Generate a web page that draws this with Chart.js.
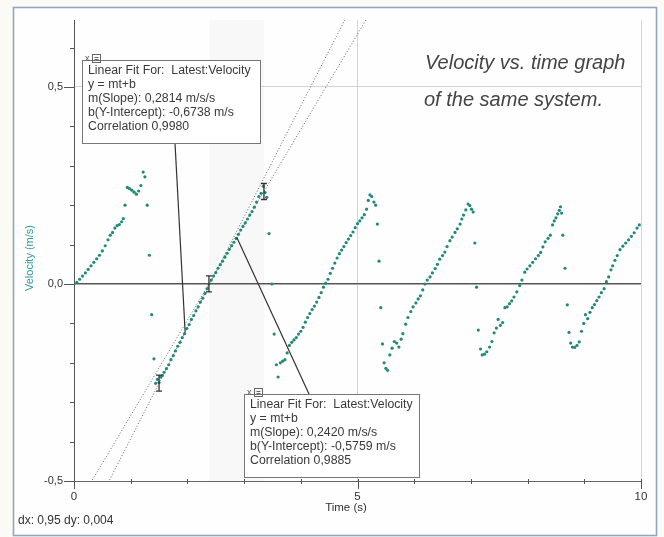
<!DOCTYPE html>
<html>
<head>
<meta charset="utf-8">
<title>Velocity vs. time</title>
<script src="https://cdn.jsdelivr.net/npm/chart.js@4"></script>
<style>
  html, body { margin: 0; padding: 0; background: #fbfaf5; }
  #wrap { width: 664px; height: 537px; }
</style>
</head>
<body>
<div id="wrap"><canvas id="chart" width="664" height="537"></canvas></div>
<script>
// Measured run: time (s) and velocity (m/s)
const timeS = [
  0.00, 0.05, 0.10, 0.15, 0.20, 0.25, 0.30, 0.35, 0.40, 0.45, 0.50, 0.55, 0.60, 0.64, 0.68, 0.72, 0.76, 0.80,
  0.84, 0.87, 0.90, 0.94, 0.98, 1.02, 1.06, 1.10, 1.14, 1.18, 1.22, 1.25, 1.29, 1.33, 1.37, 1.41,
  1.44, 1.47, 1.50, 1.53, 1.56, 1.59, 1.63, 1.67, 1.71, 1.75, 1.79, 1.83, 1.87, 1.91, 1.95, 1.99, 2.03,
  2.07, 2.11, 2.15, 2.19, 2.23, 2.27, 2.31, 2.35, 2.38,
  2.42, 2.46, 2.50, 2.54, 2.58, 2.62, 2.66, 2.70, 2.74, 2.78, 2.82, 2.86, 2.90, 2.94, 2.98, 3.02, 3.06,
  3.10, 3.14, 3.18, 3.22, 3.26, 3.30, 3.34, 3.37, 3.40, 3.44, 3.49, 3.53, 3.57, 3.60,
  3.64, 3.68, 3.72, 3.76, 3.80, 3.84, 3.88, 3.92, 3.96, 4.00, 4.04, 4.08, 4.12, 4.16, 4.20, 4.24, 4.28,
  4.32, 4.36, 4.40, 4.44, 4.48, 4.52, 4.56, 4.60, 4.64, 4.68, 4.72, 4.76, 4.80, 4.84, 4.88, 4.92, 4.96,
  5.00, 5.04, 5.08, 5.12, 5.16, 5.19, 5.22, 5.25, 5.29, 5.32, 5.35, 5.38, 5.41, 5.44, 5.47, 5.50, 5.53,
  5.57, 5.61, 5.65, 5.69, 5.73, 5.77, 5.80, 5.85, 5.89, 5.94, 5.98, 6.03, 6.07, 6.11, 6.15, 6.19, 6.23,
  6.28, 6.32, 6.37, 6.41, 6.45, 6.50, 6.54, 6.58, 6.63, 6.67, 6.72, 6.76, 6.81, 6.84, 6.87, 6.91, 6.95,
  6.98, 7.01, 7.04, 7.07, 7.10, 7.13, 7.17, 7.20,
  7.24, 7.28, 7.33, 7.37, 7.41, 7.45, 7.48, 7.52, 7.56, 7.60, 7.64, 7.68, 7.72, 7.76, 7.81, 7.86, 7.90,
  7.95, 7.99, 8.04, 8.09, 8.14, 8.19, 8.23, 8.27, 8.31, 8.36, 8.40, 8.44, 8.47, 8.50, 8.53, 8.56, 8.58,
  8.60, 8.62, 8.66, 8.70, 8.73, 8.76, 8.79, 8.83, 8.87, 8.91, 8.95, 8.99, 9.02, 9.06, 9.10, 9.14, 9.18,
  9.22, 9.26, 9.30, 9.35, 9.39, 9.43, 9.47, 9.50, 9.54, 9.58, 9.63, 9.68, 9.73, 9.78, 9.83, 9.88, 9.93, 9.97
];
const velocity = [
  0.000, 0.004, 0.012, 0.020, 0.028, 0.037, 0.046, 0.055, 0.064, 0.073, 0.084, 0.097, 0.112, 0.124, 0.131, 0.142, 0.148, 0.151,
  0.158, 0.166, 0.200, 0.245, 0.242, 0.238, 0.233, 0.228, 0.236, 0.250, 0.284, 0.272, 0.200, 0.073, -0.078, -0.190,
  -0.252, -0.242, -0.250, -0.236, -0.232, -0.224, -0.215, -0.205, -0.192, -0.182, -0.170, -0.158, -0.148, -0.136, -0.126, -0.113, -0.103,
  -0.090, -0.080, -0.068, -0.058, -0.046, -0.036, -0.024, -0.012, 0.000,
  0.010, 0.020, 0.029, 0.040, 0.049, 0.058, 0.068, 0.078, 0.088, 0.097, 0.106, 0.116, 0.126, 0.137, 0.146, 0.155, 0.165,
  0.175, 0.184, 0.195, 0.208, 0.222, 0.230, 0.248, 0.232, 0.220, 0.128, 0.000, -0.127, -0.205, -0.236,
  -0.200, -0.196, -0.192, -0.175, -0.156, -0.148, -0.142, -0.136, -0.127, -0.120, -0.110, -0.097, -0.085, -0.075, -0.065, -0.056, -0.046,
  -0.034, -0.022, -0.008, 0.002, 0.012, 0.027, 0.040, 0.053, 0.066, 0.077, 0.086, 0.095, 0.105, 0.114, 0.123, 0.132, 0.143,
  0.153, 0.160, 0.168, 0.176, 0.190, 0.212, 0.226, 0.222, 0.208, 0.200, 0.152, 0.058, -0.060, -0.152, -0.200, -0.214, -0.219,
  -0.180, -0.163, -0.146, -0.150, -0.160, -0.140, -0.126, -0.102, -0.085, -0.070, -0.058, -0.048, -0.038, -0.030, -0.015, 0.000, 0.010,
  0.018, 0.028, 0.039, 0.050, 0.063, 0.072, 0.081, 0.095, 0.110, 0.119, 0.131, 0.140, 0.152, 0.165, 0.175, 0.188, 0.203,
  0.199, 0.190, 0.183, 0.104, -0.008, -0.117, -0.165, -0.180,
  -0.178, -0.172, -0.160, -0.146, -0.124, -0.112, -0.090, -0.105, -0.098, -0.060, -0.058, -0.050, -0.043, -0.033, -0.020, -0.004, 0.010,
  0.030, 0.038, 0.046, 0.055, 0.064, 0.072, 0.080, 0.094, 0.107, 0.116, 0.124, 0.150, 0.160, 0.168, 0.178, 0.187, 0.196,
  0.180, 0.124, 0.040, -0.053, -0.123, -0.150, -0.160, -0.161, -0.156, -0.147, -0.120, -0.100, -0.078, -0.088, -0.072, -0.060, -0.052,
  -0.042, -0.033, -0.022, -0.012, 0.006, 0.018, 0.036, 0.046, 0.060, 0.072, 0.087, 0.096, 0.104, 0.112, 0.121, 0.130, 0.142, 0.150
];

// Linear fits (first and latest selection)
const fitSlopes = [0.2814, 0.2420];
const fitIntercepts = [-0.6738, -0.5759];
const fitCorrelations = [0.9980, 0.9885];
const fitStarts = [1.50, 2.38];
const fitEnds = [2.38, 3.35];
const leaderTimes = [1.96, 2.87];

// Axis ticks
const xTickLabels = [0, 5, 10];
const yTickLabels = [-0.5, 0.0, 0.5];
const xRange = [0, 10];
const yRange = [-0.5, 0.67];

const FONT = '"Liberation Sans", Arial, Helvetica, sans-serif';
const DOT = '#22897a';
const comma = (v, d) => v.toFixed(d).replace('.', ',');
const near = (a, b) => Math.abs(a - b) < 1e-6;
const isMajorX = v => xTickLabels.some(t => near(t, v));
const isMajorY = v => yTickLabels.some(t => near(t, v));

Chart.defaults.font.family = FONT;

const points = timeS.map((t, i) => ({ x: t, y: velocity[i] }));
const fitLines = fitSlopes.map((m, i) => ({
  type: 'line',
  label: 'Linear Fit ' + (i + 1),
  data: xRange.map(x => ({ x: x, y: m * x + fitIntercepts[i] })),
  borderColor: '#666',
  borderWidth: 1,
  borderDash: [1, 2],
  pointRadius: 0,
  fill: false,
  tension: 0
}));

// Box layout for the two fit readouts (pixels)
const boxes = [
  { x: 82, y: 60, w: 178, h: 83, lead: { x: 175, y: 143 } },
  { x: 244, y: 394, w: 175, h: 83, lead: { x: 309, y: 394 } }
];

const decor = {
  id: 'decor',
  beforeDraw(chart) {
    const c = chart.ctx;
    c.save();
    c.fillStyle = '#fbfaf5';
    c.fillRect(0, 0, chart.width, chart.height);
    c.fillStyle = '#fefefe';
    c.fillRect(14, 8, 642, 527);
    c.strokeStyle = '#8ea8c3';
    c.lineWidth = 1.6;
    c.strokeRect(13.5, 7.5, 643, 528);
    c.restore();
  },
  beforeDatasetsDraw(chart) {
    // shaded selection for the latest fit
    const c = chart.ctx, xs = chart.scales.x, a = chart.chartArea;
    const i = fitStarts.length - 1;
    const x0 = xs.getPixelForValue(fitStarts[i]), x1 = xs.getPixelForValue(fitEnds[i]);
    c.save();
    c.fillStyle = 'rgba(120,120,120,0.045)';
    c.fillRect(x0, a.top, x1 - x0, a.bottom - a.top);
    c.restore();
  },
  afterDatasetsDraw(chart) {
    const c = chart.ctx, xs = chart.scales.x, ys = chart.scales.y, a = chart.chartArea;
    c.save();
    // range brackets at the fit boundaries
    c.strokeStyle = '#333';
    c.lineWidth = 1.3;
    const marks = [];
    fitStarts.forEach((t, i) => marks.push([t, i]));
    marks.push([fitEnds[fitEnds.length - 1], fitEnds.length - 1]);
    marks.forEach(([t, i]) => {
      const px = xs.getPixelForValue(t);
      const py = ys.getPixelForValue(fitSlopes[i] * t + fitIntercepts[i]);
      c.beginPath();
      c.moveTo(px, py - 8); c.lineTo(px, py + 8);
      c.moveTo(px - 3, py - 8); c.lineTo(px + 3, py - 8);
      c.moveTo(px - 3, py + 8); c.lineTo(px + 3, py + 8);
      c.stroke();
    });

    // leader lines from the readouts to their fits
    c.strokeStyle = '#333';
    c.lineWidth = 1.2;
    boxes.forEach((b, i) => {
      const t = leaderTimes[i];
      const px = xs.getPixelForValue(t);
      const py = ys.getPixelForValue(fitSlopes[i] * t + fitIntercepts[i]);
      c.beginPath();
      c.moveTo(b.lead.x, b.lead.y);
      c.lineTo(px, py);
      c.stroke();
    });

    // readout boxes
    boxes.forEach((b, i) => {
      c.fillStyle = '#ffffff';
      c.fillRect(b.x, b.y, b.w, b.h);
      c.strokeStyle = '#777';
      c.lineWidth = 1;
      c.strokeRect(b.x + 0.5, b.y + 0.5, b.w, b.h);
      // little close / collapse icon
      c.fillStyle = '#555';
      c.font = '9px ' + FONT;
      c.textBaseline = 'middle';
      c.fillText('x', b.x + 3, b.y - 1);
      c.strokeStyle = '#666';
      c.strokeRect(b.x + 10.5, b.y - 5.5, 8, 8);
      c.beginPath();
      c.moveTo(b.x + 12.5, b.y - 2.5); c.lineTo(b.x + 16.5, b.y - 2.5);
      c.moveTo(b.x + 12.5, b.y - 0.5); c.lineTo(b.x + 16.5, b.y - 0.5);
      c.stroke();

      const lines = [
        'Linear Fit For:  Latest:Velocity',
        'y = mt+b',
        'm(Slope): ' + comma(fitSlopes[i], 4) + ' m/s/s',
        'b(Y-Intercept): ' + comma(fitIntercepts[i], 4) + ' m/s',
        'Correlation ' + comma(fitCorrelations[i], 4)
      ];
      c.fillStyle = '#3a3a3a';
      c.font = '12.3px ' + FONT;
      c.textBaseline = 'middle';
      lines.forEach((s, k) => c.fillText(s, b.x + 6, b.y + 11 + k * 14));
    });
    c.restore();
  },
  afterDraw(chart) {
    const c = chart.ctx, xs = chart.scales.x, ys = chart.scales.y, a = chart.chartArea;
    c.save();
    // tick marks
    c.strokeStyle = '#555';
    c.lineWidth = 1;
    ys.ticks.forEach(tk => {
      const py = Math.round(ys.getPixelForValue(tk.value)) + 0.5;
      const len = isMajorY(tk.value) ? 10 : 4;
      c.beginPath(); c.moveTo(a.left - len, py); c.lineTo(a.left, py); c.stroke();
    });
    xs.ticks.forEach(tk => {
      const px = Math.round(xs.getPixelForValue(tk.value)) + 0.5;
      const major = isMajorX(tk.value);
      c.beginPath();
      c.moveTo(px, a.bottom - 2);
      c.lineTo(px, a.bottom + (major ? 8 : 3));
      c.stroke();
    });

    // axis titles
    c.fillStyle = '#333';
    c.font = '11.5px ' + FONT;
    c.textAlign = 'center';
    c.textBaseline = 'middle';
    c.fillText('Time (s)', 346, 508);
    c.save();
    c.translate(30, 258);
    c.rotate(-Math.PI / 2);
    c.fillStyle = '#2f9a90';
    c.font = '11px ' + FONT;
    c.fillText('Velocity (m/s)', 0, 0);
    c.restore();

    // cursor readout
    c.textAlign = 'left';
    c.fillStyle = '#333';
    c.font = '12px ' + FONT;
    c.fillText('dx: 0,95 dy: 0,004', 18, 521);

    // caption
    c.fillStyle = '#444';
    c.font = 'italic 20px ' + FONT;
    c.textBaseline = 'alphabetic';
    c.fillText('Velocity vs. time graph', 425, 69);
    c.fillText('of the same system.', 424, 106);
    c.restore();
  }
};

new Chart(document.getElementById('chart'), {
  type: 'scatter',
  data: {
    datasets: [
      {
        label: 'Latest:Velocity',
        data: points,
        backgroundColor: DOT,
        borderWidth: 0,
        pointRadius: 1.6,
        pointHoverRadius: 1.6,
        showLine: false
      },
      ...fitLines
    ]
  },
  options: {
    responsive: false,
    animation: false,
    events: [],
    layout: { padding: { left: 0, top: 20, right: 23, bottom: 0 } },
    plugins: { legend: { display: false }, tooltip: { enabled: false } },
    scales: {
      x: {
        type: 'linear',
        min: xRange[0],
        max: xRange[1],
        afterFit(scale) { scale.height = 56; },
        border: { color: '#666', width: 1 },
        grid: {
          drawTicks: false,
          color: ctx => (ctx.tick && isMajorX(ctx.tick.value) && ctx.tick.value > 0) ? '#d4d4d4' : 'rgba(0,0,0,0)',
          lineWidth: 1
        },
        ticks: {
          stepSize: 1,
          includeBounds: false,
          autoSkip: false,
          maxRotation: 0,
          padding: 9,
          color: '#333',
          font: { size: 11.5 },
          callback: v => isMajorX(v) ? String(Math.round(v)) : ''
        }
      },
      y: {
        type: 'linear',
        min: yRange[0],
        max: yRange[1],
        afterFit(scale) { scale.width = 74; },
        border: { color: '#555', width: 1 },
        grid: {
          drawTicks: false,
          color: ctx => {
            if (!ctx.tick) return 'rgba(0,0,0,0)';
            if (near(ctx.tick.value, 0)) return '#555';
            if (near(ctx.tick.value, 0.5)) return '#d4d4d4';
            return 'rgba(0,0,0,0)';
          },
          lineWidth: ctx => (ctx.tick && near(ctx.tick.value, 0)) ? 1.5 : 1
        },
        ticks: {
          stepSize: 0.1,
          includeBounds: false,
          autoSkip: false,
          padding: 11,
          color: '#333',
          font: { size: 11 },
          callback: v => isMajorY(v) ? comma(v, 1) : ''
        }
      }
    }
  },
  plugins: [decor]
});
</script>
</body>
</html>
